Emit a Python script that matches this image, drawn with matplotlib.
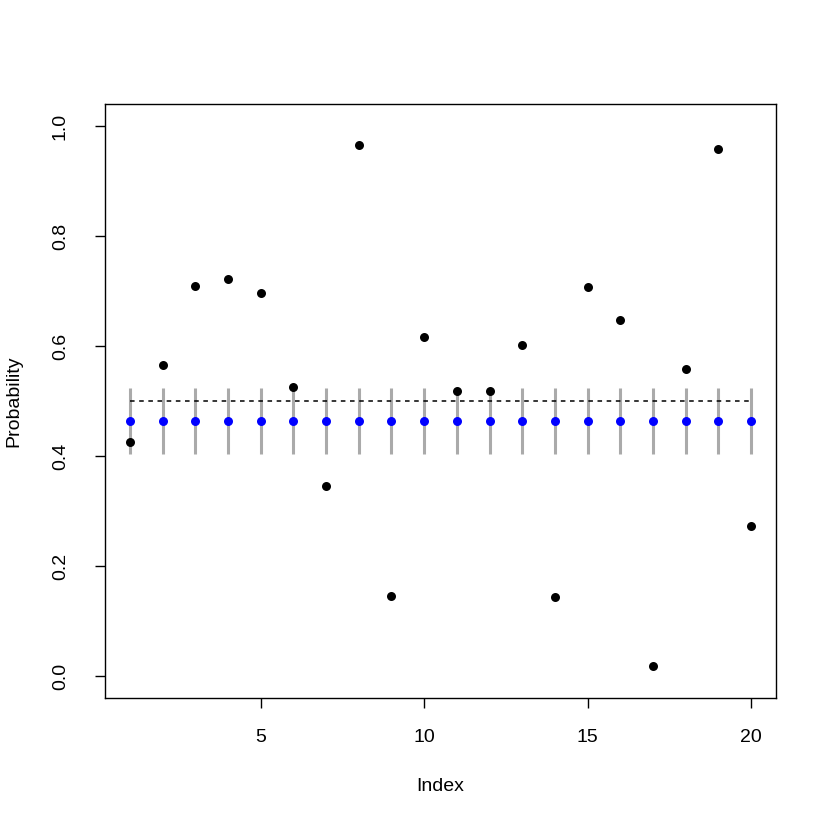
import matplotlib
matplotlib.use("Agg")
import matplotlib.pyplot as plt
import numpy as np

index = list(range(1, 21))
probability = [0.426, 0.565, 0.709, 0.721, 0.696, 0.526, 0.346, 0.965, 0.146, 0.617,
               0.519, 0.519, 0.601, 0.144, 0.707, 0.648, 0.018, 0.559, 0.958, 0.273]
mean_est = [0.464] * 20
lower = [0.403] * 20
upper = [0.523] * 20
ref_level = 0.5

plt.rcParams['font.family'] = ['Liberation Sans', 'DejaVu Sans']
fig = plt.figure(figsize=(8.3, 8.3), dpi=100)
ax = fig.add_axes([105/830, 1-698/830, (776-105)/830, (698-104)/830])

ax.vlines(index, lower, upper, colors='#aaaaaa', linewidth=2.2, zorder=1)
ax.plot([index[0], index[-1]], [ref_level, ref_level], linestyle=(0, (3, 3)), color='black', linewidth=1.1, zorder=2)
ax.scatter(index, mean_est, s=42, color='blue', zorder=3, linewidths=0)
ax.scatter(index, probability, s=42, color='black', zorder=4, linewidths=0)

ax.set_xlim(0.24, 20.76)
ax.set_ylim(-0.04, 1.04)
ax.set_xticks([5, 10, 15, 20])
ax.set_yticks([0.0, 0.2, 0.4, 0.6, 0.8, 1.0])
ax.set_yticklabels(['0.0', '0.2', '0.4', '0.6', '0.8', '1.0'], rotation=90, va='center')
ax.tick_params(axis='both', labelsize=14, length=7, width=1)
ax.tick_params(axis='x', pad=15)
ax.tick_params(axis='y', pad=19)
ax.set_xlabel('Index', fontsize=14, labelpad=23)
ax.set_ylabel('Probability', fontsize=14, labelpad=21)
for s in ax.spines.values():
    s.set_linewidth(1)

fig.savefig('out.png', dpi=100, facecolor='white')
